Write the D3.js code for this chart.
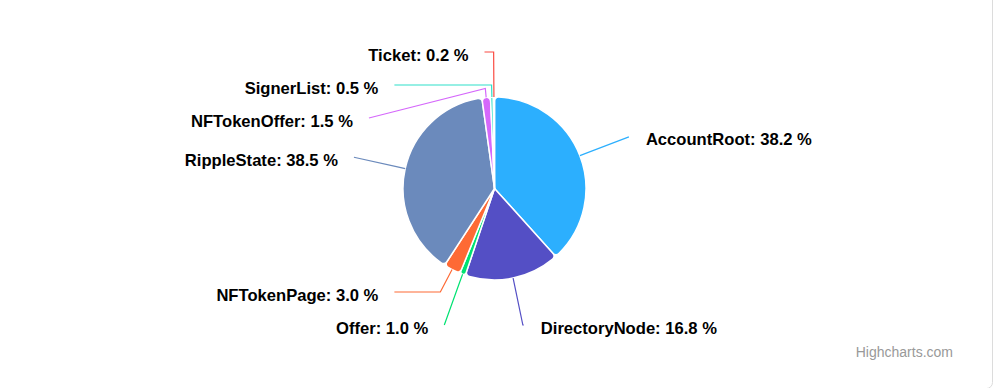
<!DOCTYPE html>
<html>
<head>
<meta charset="utf-8">
<script src="https://cdn.jsdelivr.net/npm/d3@7"></script>
<style>
    html, body { margin: 0; padding: 0; background: #fff; }
    svg { display: block; font-family: "Liberation Sans", Arial, Helvetica, sans-serif; }
</style>
</head>
<body>
<div id="chart"></div>
<script>
// Ledger object types and their share of the total (%).
var categories = ['AccountRoot', 'DirectoryNode', 'Offer', 'NFTokenPage', 'RippleState', 'NFTokenOffer', 'SignerList', 'Ticket'];
var shares = [38.2, 16.8, 1.0, 3.0, 38.5, 1.5, 0.5, 0.2];

// Slice colours, in the same order as the categories.
var palette = ['#2caffe', '#544fc5', '#00e272', '#fe6a35', '#6b8abc', '#d568fb', '#2ee0ca', '#fa4b42'];

// Size of the page and of the pie.
var width = 994,
    height = 388;
var cx = 494.5, cy = 188.5, radius = 91.5;
var labelRadius = 144,   // where the labels sit
    labelHeight = 33,    // room one label takes up
    labelTop = 35.5,
    labelBottom = 341.5;

var svg = d3.select('#chart')
    .append('svg')
        .attr('width', width)
        .attr('height', height);

// The card round the chart (only its right edge and corner show).
svg.append('rect')
    .attr('x', -20)
    .attr('y', -20)
    .attr('width', 1012.5)
    .attr('height', 408.5)
    .attr('rx', 6)
    .attr('fill', 'none')
    .attr('stroke', '#dcdcdc')
    .attr('stroke-width', 1);

var mydata = categories.map(function(c, i){
    return {name: c, value: shares[i], color: palette[i]};
});

var pie = d3.pie()
    .sort(null)
    .value(function(d){ return d.value; });

var arc = d3.arc()
    .innerRadius(0)
    .outerRadius(radius)
    .cornerRadius(4);

var arcs = pie(mydata);

var g = svg.append('g')
    .attr('transform', 'translate(' + cx + ', ' + cy + ')');

g.selectAll('path.slice')
    .data(arcs)
    .enter().append('path')
        .attr('class', 'slice')
        .attr('d', arc)
        .attr('fill', function(d){ return d.data.color; })
        .attr('stroke', '#fff')
        .attr('stroke-width', 1.5)
        .attr('stroke-linejoin', 'round');

// Work out where each label goes, Highcharts style.
arcs.forEach(function(d){
    d.mid = (d.startAngle + d.endAngle) / 2;
    d.left = Math.sin(d.mid) < 0;
    d.nx = cx + labelRadius * Math.sin(d.mid);
    d.ny = cy - labelRadius * Math.cos(d.mid);
});

// Push labels apart on each side so they do not overlap.
function distribute(items){
    items.sort(function(a, b){ return a.ny - b.ny; });
    var clusters = items.map(function(d){ return {items: [d]}; });
    var changed = true;
    while (changed) {
        changed = false;
        clusters.forEach(function(c){
            var n = c.items.length;
            var top = d3.mean(c.items, function(d){ return d.ny; }) - n * labelHeight / 2;
            c.top = Math.max(labelTop, Math.min(labelBottom - n * labelHeight, top));
        });
        for (var i = 1; i < clusters.length; i++) {
            var a = clusters[i - 1], b = clusters[i];
            if (a.top + a.items.length * labelHeight > b.top) {
                a.items = a.items.concat(b.items);
                clusters.splice(i, 1);
                changed = true;
                break;
            }
        }
    }
    clusters.forEach(function(c){
        c.items.forEach(function(d, i){ d.ly = c.top + labelHeight * i + labelHeight / 2; });
    });
}
distribute(arcs.filter(function(d){ return d.left; }));
distribute(arcs.filter(function(d){ return !d.left; }));

arcs.forEach(function(d){
    var dy = d.ly - cy;
    var sign = d.left ? -1 : 1;
    if (Math.abs(dy) > 0.9 * labelRadius) {
        // near the top or bottom keep the natural x, but clear of the centre line
        d.lx = cx + sign * Math.max(Math.abs(d.nx - cx), 10);
    } else {
        d.lx = cx + sign * Math.sqrt(labelRadius * labelRadius - dy * dy);
    }
    // Connector: label -> crook -> just outside the slice -> slice edge.
    var touch = [cx + radius * Math.sin(d.mid), cy - radius * Math.cos(d.mid)];
    var brk = [cx + (radius + 9) * Math.sin(d.mid), cy - (radius + 9) * Math.cos(d.mid)];
    var crookX = cx + (cy - d.ly) * Math.tan(d.mid);
    var pts = [[d.lx, d.ly]];
    var ok = d.left ? (crookX >= d.lx && crookX <= brk[0]) : (crookX <= d.lx && crookX >= brk[0]);
    if (ok) pts.push([crookX, d.ly]);
    pts.push(brk, touch);
    d.connector = pts;
});

svg.selectAll('path.connector')
    .data(arcs)
    .enter().append('path')
        .attr('class', 'connector')
        .attr('d', function(d){ return d3.line()(d.connector); })
        .attr('fill', 'none')
        .attr('stroke', function(d){ return d.data.color; })
        .attr('stroke-width', 1.2);

svg.selectAll('text.label')
    .data(arcs)
    .enter().append('text')
        .attr('class', 'label')
        .attr('x', function(d){ return d.left ? d.lx - 16 : d.lx + 17; })
        .attr('y', function(d){ return d.ly + 8.5; })
        .attr('text-anchor', function(d){ return d.left ? 'end' : 'start'; })
        .attr('font-size', '16.6px')
        .attr('font-weight', 'bold')
        .attr('fill', '#000')
        .attr('stroke', '#fff')
        .attr('stroke-width', 2)
        .attr('stroke-linejoin', 'round')
        .attr('paint-order', 'stroke')
        .text(function(d){ return d.data.name + ': ' + d.data.value.toFixed(1) + ' %'; });

// Credits in the corner.
svg.append('text')
    .attr('x', 953)
    .attr('y', 357)
    .attr('text-anchor', 'end')
    .attr('font-size', '14px')
    .attr('fill', '#999')
    .text('Highcharts.com');
</script>
</body>
</html>
